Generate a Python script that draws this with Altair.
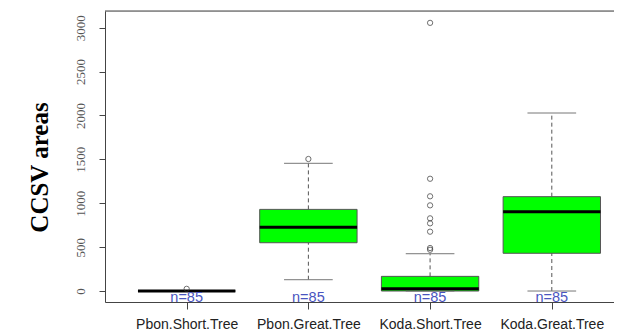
import altair as alt
import pandas as pd

categories = ["Pbon.Short.Tree", "Pbon.Great.Tree", "Koda.Short.Tree", "Koda.Great.Tree"]
positions = [1, 2, 3, 4]
q1 = [0, 550, 0, 430]
median = [0, 726, 26, 904]
q3 = [0, 930, 167, 1075]
whisker_lo = [0, 129, 0, 0]
whisker_hi = [0, 1455, 425, 2028]
n_labels = ["n=85", "n=85", "n=85", "n=85"]

outlier_group = [1, 2, 3, 3, 3, 3, 3, 3, 3, 3, 3]
outlier_value = [25, 1504, 3055, 1279, 1079, 976, 828, 771, 676, 490, 470]

box = pd.DataFrame({
    "cat": categories, "pos": positions, "q1": q1, "median": median, "q3": q3,
    "lo": whisker_lo, "hi": whisker_hi, "n": n_labels,
})
box["left"] = box["pos"] - 0.4
box["right"] = box["pos"] + 0.4
box["capl"] = box["pos"] - 0.2
box["capr"] = box["pos"] + 0.2

outl = pd.DataFrame({"pos": outlier_group, "value": outlier_value})

xdom = [0.329, 4.511]
ydom = [-125, 3190]

label_expr = ("datum.value == 1 ? 'Pbon.Short.Tree' : datum.value == 2 ? 'Pbon.Great.Tree' : "
              "datum.value == 3 ? 'Koda.Short.Tree' : 'Koda.Great.Tree'")

xscale = alt.Scale(domain=xdom, nice=False, zero=False)
yscale = alt.Scale(domain=ydom, nice=False, zero=False)

base = alt.Chart(box)

xaxis = alt.Axis(values=positions, labelExpr=label_expr, title=None, grid=False,
                 domainColor="#444", tickColor="#444", tickSize=7, labelFont="Liberation Sans",
                 labelFontSize=14, labelColor="#222", labelPadding=8)
yaxis = alt.Axis(values=[0, 500, 1000, 1500, 2000, 2500, 3000], format="d", grid=False,
                 title="CCSV areas",
                 labelAngle=-90, labelAlign="center", labelBaseline="bottom",
                 labelFont="Liberation Serif", labelFontSize=13, labelColor="#555",
                 domainColor="#444", tickColor="#444", tickSize=6, labelPadding=12,
                 titleFont="Liberation Serif", titleFontSize=25, titleFontWeight="bold",
                 titleColor="#000", titlePadding=22, titleY=156)

boxes = base.mark_bar(fill="#00ff00", stroke="#555", strokeWidth=1).encode(
    x=alt.X("left:Q", scale=xscale, axis=xaxis), x2="right:Q",
    y=alt.Y("q1:Q", scale=yscale, axis=yaxis), y2="q3:Q",
)
whisk_hi = base.mark_rule(color="#555", strokeDash=[4, 3], strokeWidth=1).encode(
    x="pos:Q", y="q3:Q", y2="hi:Q")
whisk_lo = base.mark_rule(color="#555", strokeDash=[4, 3], strokeWidth=1).encode(
    x="pos:Q", y="lo:Q", y2="q1:Q")
cap_hi = base.mark_rule(color="#777", strokeWidth=1).encode(x="capl:Q", x2="capr:Q", y="hi:Q")
cap_lo = base.mark_rule(color="#777", strokeWidth=1).encode(x="capl:Q", x2="capr:Q", y="lo:Q")
meds = base.mark_rule(color="#000", strokeWidth=3).encode(x="left:Q", x2="right:Q", y="median:Q")
points = alt.Chart(outl).mark_point(shape="circle", filled=False, color="#333", size=28,
                                     strokeWidth=1).encode(x="pos:Q", y="value:Q")
ntext = base.mark_text(color="#4a55c0", font="Liberation Sans", fontSize=14.5,
                       baseline="middle").encode(x="pos:Q", y=alt.value(287), text="n:N")
topline = alt.Chart(pd.DataFrame({"a": [0]})).mark_rule(color="#444", strokeWidth=1).encode(
    x=alt.value(0), x2=alt.value(509), y=alt.value(0))

chart = alt.layer(boxes, whisk_hi, whisk_lo, cap_hi, cap_lo, meds, points, ntext, topline).properties(
    width=509, height=291,
    autosize=alt.AutoSizeParams(type="none"),
    padding={"left": 97, "top": 3, "right": 0, "bottom": 29},
).configure_view(stroke=None).configure(background="white")

chart.save("out.html", embed_options={"renderer": "svg", "actions": False})
